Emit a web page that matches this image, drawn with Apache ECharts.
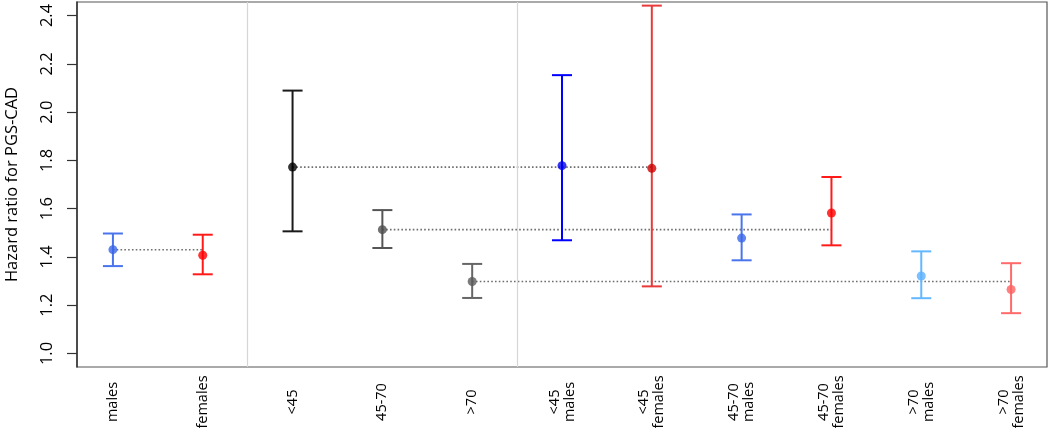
<!DOCTYPE html>
<html>
<head>
<meta charset="utf-8">
<script src="https://cdn.jsdelivr.net/npm/echarts@6/dist/echarts.min.js"></script>
<style>
html,body{margin:0;padding:0;background:#fff;}
#chart{width:1050px;height:428px;}
</style>
</head>
<body>
<div id="chart"></div>
<script>
const categories = ['males','females','<45','45-70','>70','<45\nmales','<45\nfemales','45-70\nmales','45-70\nfemales','>70\nmales','>70\nfemales'];
const hr    = [1.430, 1.407, 1.772, 1.513, 1.298, 1.778, 1.767, 1.478, 1.582, 1.321, 1.265];
const lower = [1.362, 1.328, 1.506, 1.437, 1.230, 1.469, 1.278, 1.386, 1.448, 1.229, 1.167];
const upper = [1.497, 1.492, 2.089, 1.594, 1.371, 2.153, 2.441, 1.576, 1.731, 1.423, 1.374];
const yTicks = [1.0, 1.2, 1.4, 1.6, 1.8, 2.0, 2.2, 2.4];
const xPositions = [1,2,3,4,5,6,7,8,9,10,11];
const separators = [2.5, 5.5];
// reference dotted lines: [from index, to index]
const refLines = [[0,1],[2,6],[3,8],[4,10]];

// styles
const barColors   = ['#4A74EC','#FF1A1A','#1a1a1a','#555555','#666666','#0000FF','#E83A3A','#4A74EC','#FF1A1A','#63B8FF','#FF6A6A'];
const pointColors = ['#3A66E8','#FF0000','#000000','#4d4d4d','#5a5a5a','#0000EE','#CC0000','#3A66E8','#FF0000','#5CB0FF','#FF6060'];

const chart = echarts.init(document.getElementById('chart'), null, {renderer:'canvas'});

const lineSeries = refLines.map(([a,b]) => ({
  type:'line',
  data:[[xPositions[a], hr[a]], [xPositions[b], hr[a]]],
  symbol:'none',
  silent:true,
  z:1,
  lineStyle:{color:'#6e6e6e', width:1.6, type:[1.6,2.2]}
}));

const option = {
  animation:false,
  grid:{left:77, right:3, top:2, bottom:61, outerBoundsMode:'none', containLabel:false, show:true, borderColor:'#555', borderWidth:1.2, backgroundColor:'#fff'},
  xAxis:{
    type:'value', min:0.6, max:11.4,
    splitLine:{show:false},
    axisLine:{show:false},
    axisTick:{show:false},
    axisLabel:{
      customValues: xPositions,
      rotate:90,
      align:'center',
      margin:35,
      fontFamily:'Open Sans',
      fontSize:14.5,
      lineHeight:15,
      color:'#000',
      formatter: v => categories[Math.round(v)-1] || ''
    }
  },
  yAxis:{
    type:'value', min:0.944, max:2.456,
    name:'Hazard ratio for PGS-CAD',
    nameLocation:'middle',
    nameRotate:90,
    nameGap:56,
    nameTextStyle:{fontFamily:'Open Sans', fontSize:16.5, color:'#000'},
    splitLine:{show:false},
    axisLine:{show:true, lineStyle:{color:'#333', width:1.5}},
    axisTick:{show:true, customValues:yTicks, length:10, lineStyle:{color:'#333', width:1.2}},
    axisLabel:{
      customValues:yTicks,
      rotate:90,
      margin:21,
      align:'center',
      fontFamily:'Open Sans',
      fontSize:16.5,
      color:'#000',
      formatter: v => v.toFixed(1)
    }
  },
  series:[
    ...lineSeries,
    {
      type:'custom',
      z:2,
      silent:true,
      data: xPositions.map((x,i) => [x, lower[i], upper[i], i]),
      renderItem:(params, api) => {
        const x = api.value(0), lo = api.value(1), hi = api.value(2), i = api.value(3);
        const pLo = api.coord([x, lo]);
        const pHi = api.coord([x, hi]);
        const half = 10;
        const style = {stroke: barColors[i], lineWidth:2};
        return {
          type:'group',
          children:[
            {type:'line', shape:{x1:pLo[0], y1:pLo[1], x2:pHi[0], y2:pHi[1]}, style},
            {type:'line', shape:{x1:pHi[0]-half, y1:pHi[1], x2:pHi[0]+half, y2:pHi[1]}, style},
            {type:'line', shape:{x1:pLo[0]-half, y1:pLo[1], x2:pLo[0]+half, y2:pLo[1]}, style}
          ]
        };
      }
    },
    {
      type:'scatter',
      z:3,
      symbol:'circle',
      symbolSize:9,
      data: xPositions.map((x,i) => ({value:[x, hr[i]], itemStyle:{color:pointColors[i]}})),
      markLine:{
        silent:true,
        symbol:'none',
        label:{show:false},
        lineStyle:{color:'#d6d6d6', width:1.2, type:'solid'},
        data: separators.map(s => ({xAxis:s}))
      }
    }
  ]
};
chart.setOption(option);
</script>
</body>
</html>
